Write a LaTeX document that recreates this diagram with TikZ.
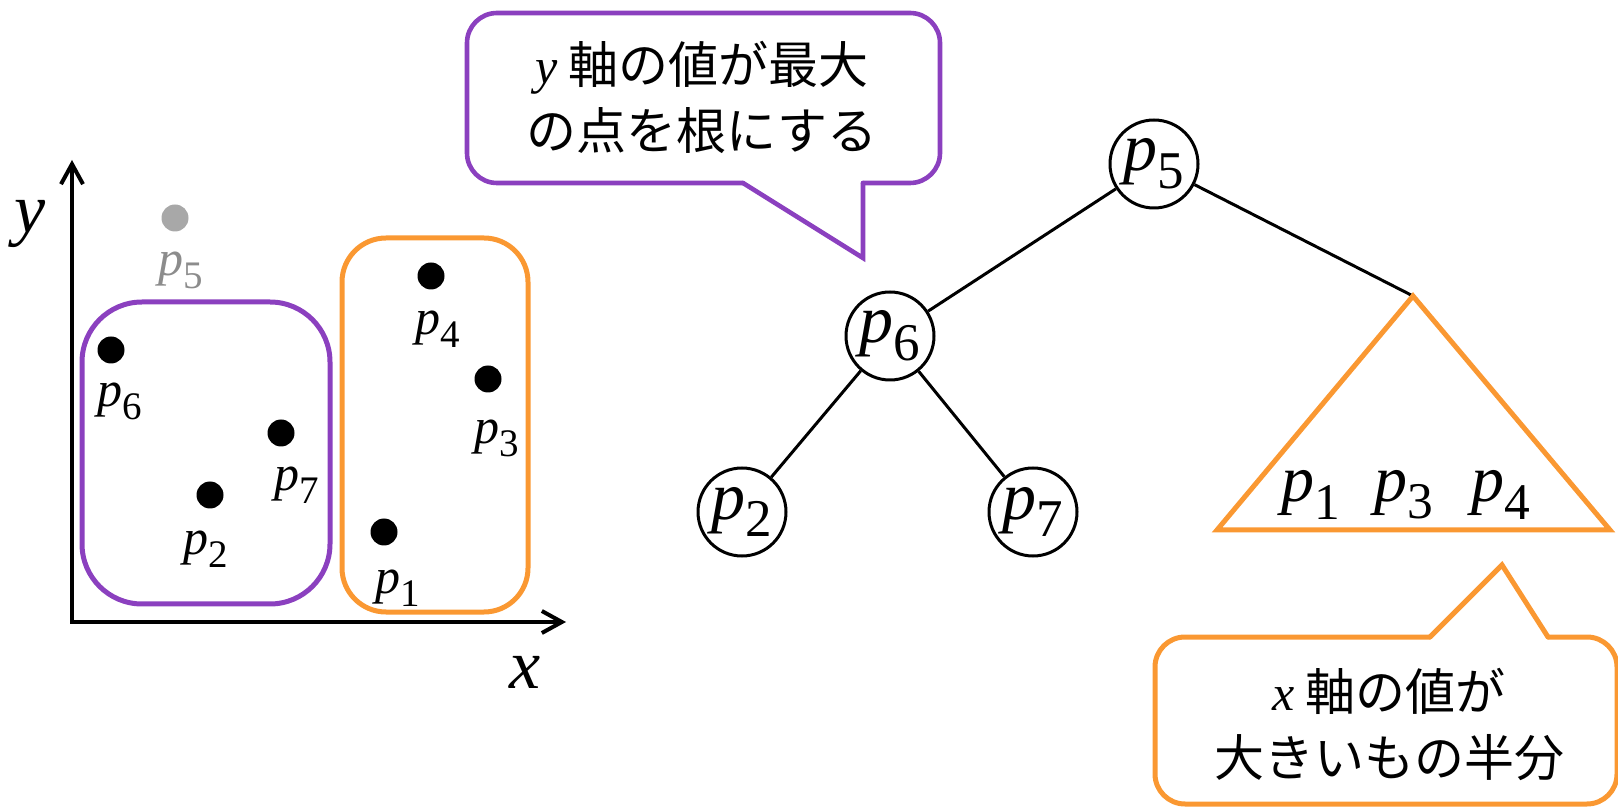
\documentclass[tikz,border=0pt]{standalone}
\usepackage{fontspec}
\newfontfamily\serfam{Liberation Serif}[ItalicFont={Liberation Serif Italic}]
\newfontfamily\cjk{Noto Sans CJK JP}
\usetikzlibrary{arrows.meta}
\definecolor{bpurple}{RGB}{139,64,191}
\definecolor{borange}{RGB}{250,152,50}
\definecolor{dotgray}{RGB}{168,168,168}
\definecolor{lblgray}{RGB}{140,140,140}
\newcommand\pv[1]{{\serfam\itshape p}{\serfam\raisebox{-0.26em}{\scalebox{0.78}{#1}}}}
\newcommand\mvar[1]{{\serfam\itshape #1}}
\begin{document}
\begin{tikzpicture}[x=0.5pt,y=-0.5pt,
  axisline/.style={line width=2pt, line join=miter,
    arrows={Straight Barb[length=10pt,width=11pt]-Straight Barb[length=10pt,width=11pt]}},
  axlbl/.style={inner sep=0, font=\serfam\fontsize{35}{40}\selectfont\itshape},
  dot/.style={circle, fill=black, inner sep=0, minimum size=13.5pt},
  lbl/.style={inner sep=0, font=\serfam\fontsize{25}{30}\selectfont},
  pgroup/.style={draw=bpurple, line width=2.5pt, rounded corners=30pt},
  ogroup/.style={draw=borange, line width=2.5pt, rounded corners=22pt},
  pline/.style={draw=bpurple, line width=2.3pt, line cap=round},
  oline/.style={draw=borange, line width=2.5pt, line cap=round},
  btext/.style={inner sep=0, align=center, font=\cjk\fontsize{25}{33}\selectfont},
  tnode/.style={circle, draw, line width=1.5pt, minimum size=44pt, inner sep=0, font=\serfam\fontsize{34}{40}\selectfont},
  tedge/.style={line width=1.5pt},
  trilbl/.style={inner sep=0, font=\serfam\fontsize{33}{40}\selectfont}
]
\useasboundingbox (0,0) rectangle (1618,807);

% ---------- scatter plot ----------
\coordinate (O) at (72,622);
\coordinate (ytip) at (72,160);
\coordinate (xtip) at (566,622);
\draw[axisline] (xtip) -- (O) -- (ytip);
\node[axlbl] (ylab) at (30,224) {y};
\node[axlbl] (xlab) at (525,672) {x};

\draw[pgroup] (82,302) rectangle (330,604);
\draw[ogroup] (342,238) rectangle (528,612);

\node[dot, fill=dotgray] (d5) at (175,218) {};
\node[dot] (d6) at (111,350) {};
\node[dot] (d7) at (281,433) {};
\node[dot] (d2) at (210,495) {};
\node[dot] (d4) at (431,276) {};
\node[dot] (d3) at (488,379) {};
\node[dot] (d1) at (384,532) {};

\node[lbl, text=lblgray] (l5) at (181,270) {\pv{5}};
\node[lbl] (l6) at (120,401) {\pv{6}};
\node[lbl] (l7) at (297,485) {\pv{7}};
\node[lbl] (l2) at (206,549) {\pv{2}};
\node[lbl] (l4) at (438,329) {\pv{4}};
\node[lbl] (l3) at (497,438) {\pv{3}};
\node[lbl] (l1) at (398,588) {\pv{1}};

% ---------- purple callout ----------
\draw[pline, rounded corners=15pt] (863,183) -- (940,183) -- (940,13) -- (467,13) -- (467,183) -- (743,183);
\draw[pline, line join=miter] (743,183) -- (863,258) -- (863,183);
\node[btext] (ptext) at (702,97) {\mvar{y} 軸の値が最大\\の点を根にする};

% ---------- tree ----------
\node[tnode] (t5) at (1154,164) {\pv{5}};
\node[tnode] (t6) at (890,336) {\pv{6}};
\node[tnode] (t2) at (742,512) {\pv{2}};
\node[tnode] (t7) at (1033,512) {\pv{7}};
\coordinate (apex) at (1413,296);
\coordinate (bl) at (1217,530);
\coordinate (br) at (1610,530);
\draw[tedge] (t5) -- (t6);
\draw[tedge] (t5) -- (apex);
\draw[tedge] (t6) -- (t2);
\draw[tedge] (t6) -- (t7);
\draw[oline, line join=miter, line cap=butt] (apex) -- (bl) -- (br) -- cycle;
\node[trilbl] (tp1) at (1311,495) {\pv{1}};
\node[trilbl] (tp3) at (1404,495) {\pv{3}};
\node[trilbl] (tp4) at (1501,495) {\pv{4}};

% ---------- orange callout ----------
\draw[oline, rounded corners=15pt] (1548,637) -- (1617,637) -- (1617,804) -- (1155,804) -- (1155,637) -- (1430,637);
\draw[oline, line join=miter] (1430,637) -- (1502,565) -- (1548,637);
\node[btext] (otext) at (1389,724) {\mvar{x} 軸の値が\\大きいもの半分};
\end{tikzpicture}
\end{document}
